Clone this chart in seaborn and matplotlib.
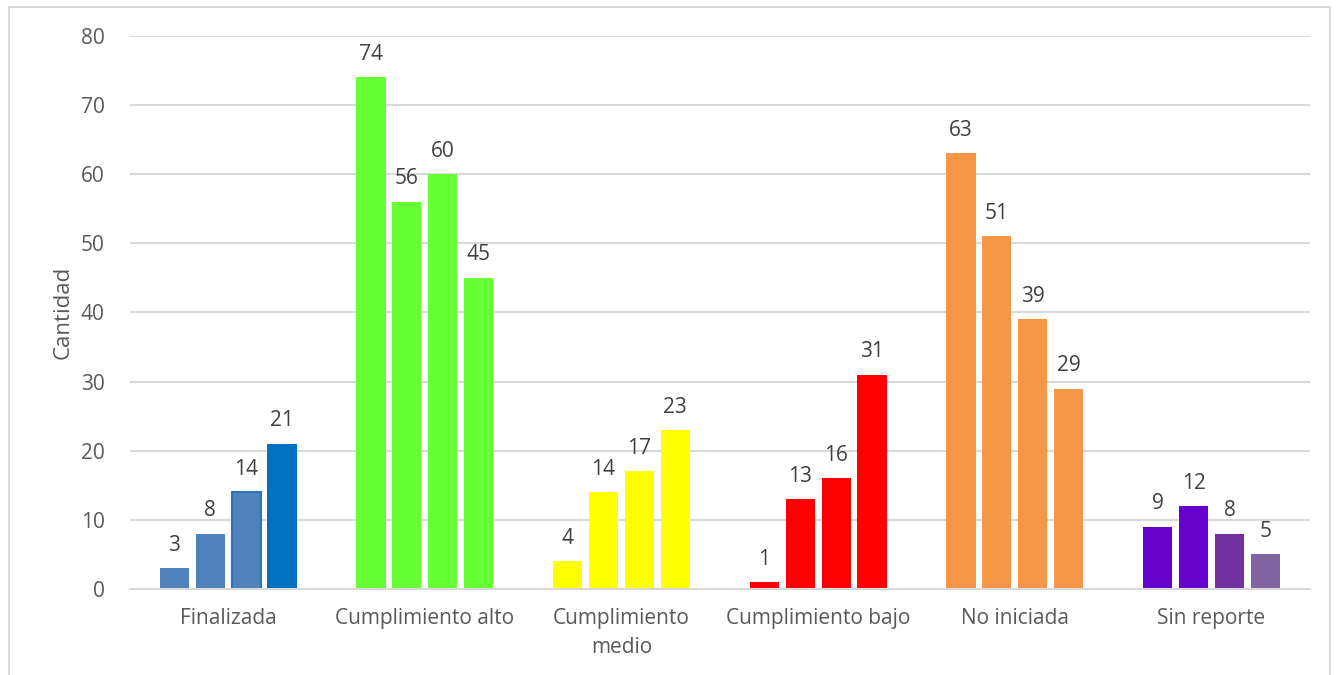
import matplotlib
matplotlib.use("Agg")
import matplotlib.pyplot as plt
from matplotlib.lines import Line2D
import seaborn as sns
import pandas as pd

categories = ["Finalizada", "Cumplimiento alto", "Cumplimiento\nmedio",
              "Cumplimiento bajo", "No iniciada", "Sin reporte"]
series = ["Corte 1", "Corte 2", "Corte 3", "Corte 4"]
values = {
    "Corte 1": [3, 74, 4, 1, 63, 9],
    "Corte 2": [8, 56, 14, 13, 51, 12],
    "Corte 3": [14, 60, 17, 16, 39, 8],
    "Corte 4": [21, 45, 23, 31, 29, 5],
}
# fill colour for each category, one entry per series
bar_colors = [
    ["#4F81BD", "#4F81BD", "#4F81BD", "#0070C0"],
    ["#66FF33", "#66FF33", "#66FF33", "#66FF33"],
    ["#FFFF00", "#FFFF00", "#FFFF00", "#FFFF00"],
    ["#FF0000", "#FF0000", "#FF0000", "#FF0000"],
    ["#F79646", "#F79646", "#F79646", "#F79646"],
    ["#6600CC", "#6600CC", "#7030A0", "#8064A2"],
]

rows = []
for s in series:
    for c, v in zip(categories, values[s]):
        rows.append({"categoria": c, "serie": s, "cantidad": v})
df = pd.DataFrame(rows)

sns.set_theme(style="white")
plt.rcParams["font.family"] = ["Open Sans", "DejaVu Sans"]

fig = plt.figure(figsize=(13.38, 6.75), dpi=100)
ax = fig.add_axes([0.097, 0.1274, 0.882, 0.8193])

sns.barplot(data=df, x="categoria", y="cantidad", hue="serie",
            order=categories, hue_order=series, width=0.73, gap=0.19,
            legend=False, ax=ax, saturation=1)

for si, cont in enumerate(ax.containers):
    for ci, patch in enumerate(cont.patches):
        patch.set_facecolor(bar_colors[ci][si])
        patch.set_edgecolor("none")
        patch.set_linewidth(0)
    ax.bar_label(cont, labels=[str(v) for v in values[series[si]]],
                 padding=9, fontsize=15, color="#404040")

# outlined bar in the first group
hl = ax.containers[2].patches[0]
hl.set_edgecolor("#2E75B6")
hl.set_linewidth(1.5)

ax.set_ylim(0, 80)
ax.set_yticks(range(0, 81, 10))
ax.set_xlim(-0.5, len(categories) - 0.5)
ax.yaxis.grid(True, color="#D9D9D9", linewidth=1.5)
ax.set_axisbelow(True)
for side in ["top", "right", "left"]:
    ax.spines[side].set_visible(False)
ax.spines["bottom"].set_color("#D9D9D9")
ax.spines["bottom"].set_linewidth(1.5)

ax.tick_params(axis="both", length=0, labelsize=15, labelcolor="#595959")
ax.tick_params(axis="x", pad=14)
ax.tick_params(axis="y", pad=18)
for t in ax.get_xticklabels():
    t.set_linespacing(1.5)
ax.set_xlabel("")
ax.set_ylabel("Cantidad", fontsize=16, color="#595959", labelpad=5)

# chart frame
frame_kw = dict(color="#D9D9D9", linewidth=1.5, transform=fig.transFigure)
x0, x1, ytop = 9 / 1338, 1330 / 1338, 1 - 7 / 675
fig.add_artist(Line2D([x0, x1], [ytop, ytop], **frame_kw))
fig.add_artist(Line2D([x0, x0], [0, ytop], **frame_kw))
fig.add_artist(Line2D([x1, x1], [0, ytop], **frame_kw))

fig.savefig("out.png", dpi=100)
